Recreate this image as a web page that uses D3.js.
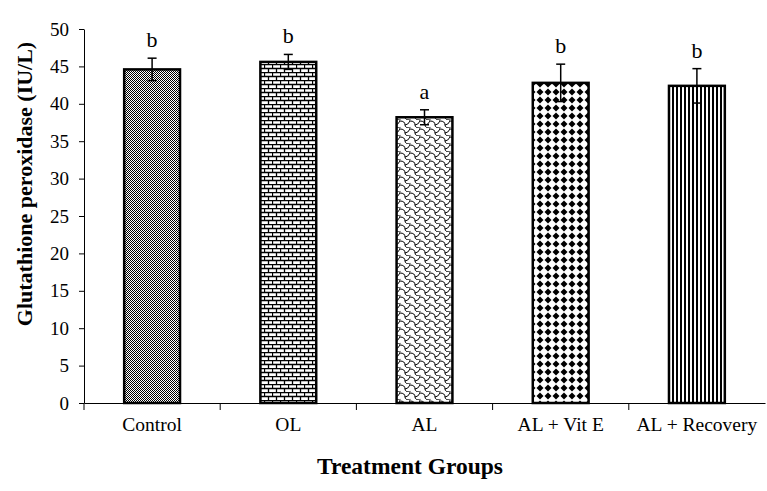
<!DOCTYPE html>
<html><head><meta charset="utf-8">
<script src="https://cdn.jsdelivr.net/npm/d3@7"></script>
<style>body{margin:0;background:#fff}svg{display:block}</style>
</head><body>
<svg id="c" width="767" height="491"></svg>
<script>
const categories = ["Control","OL","AL","AL + Vit E","AL + Recovery"];
const values = [44.6, 45.6, 38.2, 42.8, 42.4];
const errors = [1.5, 1.0, 1.0, 2.5, 2.3];
const letters = ["b","b","a","b","b"];
const patterns = ["checker","brick","scale","diamond","vstripe"];
const yTicks = [0,5,10,15,20,25,30,35,40,45,50];

const svg = d3.select("#c");
const m = {l:84, r:2, t:29, b:88};
const W = 767, H = 491;
const x = d3.scaleBand().domain(categories).range([m.l, W - m.r]).paddingInner(0.59).paddingOuter(0.295);
const y = d3.scaleLinear().domain([0,50]).range([H - m.b, m.t]);
const font = "'Liberation Serif','Times New Roman',serif";

const defs = svg.append("defs");
// checker
let p = defs.append("pattern").attr("id","checker").attr("patternUnits","userSpaceOnUse").attr("width",2).attr("height",2);
p.append("rect").attr("width",2).attr("height",2).attr("fill","#fff");
p.append("rect").attr("width",1).attr("height",1).attr("fill","#000");
p.append("rect").attr("x",1).attr("y",1).attr("width",1).attr("height",1).attr("fill","#000");
// brick
p = defs.append("pattern").attr("id","brick").attr("patternUnits","userSpaceOnUse").attr("width",8).attr("height",8);
p.append("rect").attr("width",8).attr("height",8).attr("fill","#fff");
p.append("path").attr("d","M0,0.5H8M0,4.5H8M0.5,0V4M4.5,4V8").attr("stroke","#000").attr("stroke-width",1.3).attr("fill","none");
// scale
p = defs.append("pattern").attr("id","scale").attr("patternUnits","userSpaceOnUse").attr("width",10).attr("height",8);
p.append("rect").attr("width",10).attr("height",8).attr("fill","#fff");
p.append("path").attr("d","M0,1 Q5,1 5,5 Q5,8 10,8 M-5,5 Q0,5 0,8 M5,-3 Q10,-3 10,1 M0,1 Q-3,1 -5,-3 M5,5 Q8,5 10,1 M0,8 Q-2,8 -5,5").attr("stroke","#000").attr("stroke-width",1).attr("fill","none");
// diamond
p = defs.append("pattern").attr("id","diamond").attr("patternUnits","userSpaceOnUse").attr("width",8).attr("height",8);
p.append("rect").attr("width",8).attr("height",8).attr("fill","#fff");
p.append("path").attr("d","M4,0.5L7.5,4L4,7.5L0.5,4Z").attr("fill","#000");
// vertical stripes
p = defs.append("pattern").attr("id","vstripe").attr("patternUnits","userSpaceOnUse").attr("width",4).attr("height",4);
p.append("rect").attr("width",4).attr("height",4).attr("fill","#fff");
p.append("rect").attr("width",2).attr("height",4).attr("fill","#000");

const data = categories.map((c,i)=>({c, v:values[i], e:errors[i], l:letters[i], p:patterns[i]}));

// bars
svg.append("g").selectAll("rect").data(data).join("rect")
  .attr("x", d=>x(d.c)).attr("width", x.bandwidth())
  .attr("y", d=>y(d.v)).attr("height", d=>y(0)-y(d.v))
  .attr("fill", d=>`url(#${d.p})`).attr("stroke","#000").attr("stroke-width",2.5);

// error bars
const eb = svg.append("g").attr("stroke","#000").attr("stroke-width",1.5);
data.forEach(d=>{
  const cx = x(d.c) + x.bandwidth()/2;
  eb.append("line").attr("x1",cx).attr("x2",cx).attr("y1",y(d.v-d.e)).attr("y2",y(d.v+d.e));
  eb.append("line").attr("x1",cx-4.5).attr("x2",cx+4.5).attr("y1",y(d.v+d.e)).attr("y2",y(d.v+d.e));
  eb.append("line").attr("x1",cx-4.5).attr("x2",cx+4.5).attr("y1",y(d.v-d.e)).attr("y2",y(d.v-d.e));
});

// letters
svg.append("g").selectAll("text").data(data).join("text")
  .attr("x", d=>x(d.c)+x.bandwidth()/2).attr("y", d=>y(d.v+d.e)-11)
  .attr("text-anchor","middle").attr("font-family",font).attr("font-size",22).text(d=>d.l);

// y axis
const ya = svg.append("g").attr("transform",`translate(${m.l},0)`)
  .call(d3.axisLeft(y).tickValues(yTicks).tickSize(5).tickPadding(10).tickSizeOuter(0));
ya.select(".domain").attr("stroke","#000").attr("stroke-width",1);
ya.selectAll("text").attr("font-family",font).attr("font-size",19).attr("fill","#000");

// x axis
const xa = svg.append("g").attr("transform",`translate(0,${y(0)})`)
  .call(d3.axisBottom(x).tickSize(0).tickPadding(14).tickSizeOuter(0));
xa.select(".domain").attr("stroke","#000").attr("stroke-width",1.2);
xa.selectAll("text").attr("font-family",font).attr("font-size",19.5).attr("fill","#000");
const step = x.step();
const bounds = categories.map((c,i)=> m.l + i*step);
xa.selectAll(".bt").data(bounds).join("line").attr("class","bt")
  .attr("x1",d=>d).attr("x2",d=>d).attr("y1",0).attr("y2",7).attr("stroke","#000");

// titles
svg.append("text").attr("x",410).attr("y",474).attr("text-anchor","middle")
  .attr("font-family",font).attr("font-weight","bold").attr("font-size",23.5).text("Treatment Groups");
svg.append("text").attr("transform","translate(32,184) rotate(-90)").attr("text-anchor","middle")
  .attr("font-family",font).attr("font-weight","bold").attr("font-size",22).text("Glutathione peroxidase (IU/L)");
</script>
</body></html>
